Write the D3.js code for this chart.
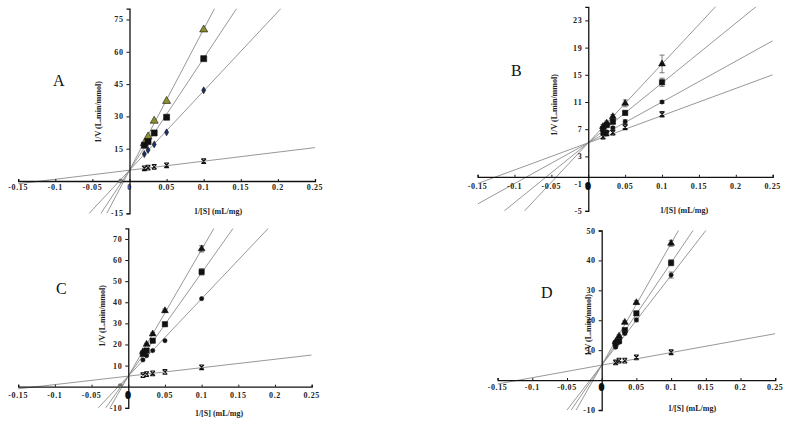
<!DOCTYPE html>
<html><head><meta charset="utf-8">
<script src="https://cdn.jsdelivr.net/npm/d3@7"></script>
<style>
html,body{margin:0;padding:0;background:#fff;}
svg{display:block;}
.tick-label{font-family:"Liberation Serif","DejaVu Serif",serif;font-weight:bold;font-size:8px;fill:#222;letter-spacing:0.6px;}
.axis-title{font-family:"Liberation Serif","DejaVu Serif",serif;font-weight:bold;font-size:8px;fill:#222;}
.panel-letter{font-family:"Liberation Serif","DejaVu Serif",serif;font-size:16px;fill:#111;}
</style>
</head><body>
<svg id="chart" width="789" height="424"></svg>
<script>
// ---------- data ----------
const panelNames = ["A", "B", "C", "D"];
const xTickValues = [-0.15, -0.1, -0.05, 0, 0.05, 0.1, 0.15, 0.2, 0.25];
const xTickLabels = ["-0.15", "-0.1", "-0.05", "0", "0.05", "0.1", "0.15", "0.2", "0.25"];
const invS = [0.02, 0.025, 0.0333, 0.05, 0.1];

const yDomainA = [-15, 80];
const yTicksA = [-15, 15, 30, 45, 60, 75];
const triangleA = [17.5, 20.6, 27.9, 37.1, 70.3];
const squareA   = [16.6, 18.3, 22.3, 29.6, 56.8];
const diamondA  = [12.5, 14.4, 17.0, 22.6, 42.1];
const crossA    = [5.9, 6.2, 6.6, 7.3, 9.2];
const slopesA   = [655, 520, 368, 42];
const interceptsA = [5, 5, 5, 5];

const yDomainB = [-5, 25];
const yTicksB = [-5, -1, 3, 7, 11, 15, 19, 23];
const triangleB = [7.4, 7.9, 8.85, 10.8, 16.6];
const squareB   = [7.0, 7.6, 8.1, 9.4, 13.9];
const circleB   = [6.4, 6.6, 7.2, 8.1, 11.0];
const crossB    = [5.9, 6.4, 6.5, 7.3, 9.2];
const triangleErrB = [0.3, 0.3, 0.3, 0.5, 1.3];
const squareErrB   = [0.2, 0.2, 0.3, 0.3, 0.6];
const circleErrB   = [0.2, 0.2, 0.2, 0.3, 0.2];
const crossErrB    = [0.3, 0.3, 0.3, 0.4, 0.4];
const slopesB   = [116, 88, 60, 40];
const interceptsB = [5, 5, 5, 5];

const yDomainC = [-10, 75];
const yTicksC = [-10, 10, 20, 30, 40, 50, 60, 70];
const triangleC = [16.6, 20.1, 25.0, 36.0, 65.3];
const squareC   = [15.5, 17.1, 21.8, 29.6, 54.4];
const circleC   = [12.7, 14.7, 17.1, 21.8, 41.7];
const crossC    = [5.5, 6.0, 6.3, 7.0, 9.2];
const triangleErrC = [0.5, 0.5, 0.6, 0.8, 1.5];
const squareErrC   = [0.5, 0.5, 0.6, 0.8, 1.5];
const slopesC   = [600, 490, 367, 40];
const interceptsC = [5, 5, 5, 5];

const yDomainD = [-10, 50];
const yTicksD = [-10, 10, 20, 30, 40, 50];
const triangleD = [12.8, 14.7, 19.3, 25.9, 45.7];
const squareD   = [12.2, 13.1, 16.7, 22.3, 39.2];
const circleD   = [11.0, 12.6, 15.6, 20.1, 35.1];
const crossD    = [5.9, 6.5, 6.5, 7.6, 9.3];
const triangleErrD = [0.4, 0.4, 0.5, 0.6, 1.0];
const squareErrD   = [0.4, 0.4, 0.5, 0.6, 1.0];
const circleErrD   = [0.4, 0.4, 0.5, 0.6, 1.0];
const slopesD   = [407, 342, 300, 42];
const interceptsD = [5, 5, 5, 5];

// stray point near the x-intercept (A and C)
const strayA = [{x: -0.012, y: 0}];
const strayC = [{x: -0.011, y: 0.5}];

const xTitle = "1/[S] (mL/mg)";
const yTitle = "1/V (L.min/mmol)";

// ---------- layout (not data) ----------
const layout = {
  A: {xr: [18.2, 315], yr: [213.3, 8.7], yd: yDomainA, yt: yTicksA, letter: [53, 86], xt: [218, 214], ytl: [101, 112], lblDy: 6, zeroBlob: false},
  B: {xr: [477.6, 772.7], yr: [210.8, 6.8], yd: yDomainB, yt: yTicksB, letter: [511, 76], xt: [684, 213], ytl: [557, 105], lblDy: 9, zeroBlob: true},
  C: {xr: [18.2, 311.7], yr: [407.8, 228.4], yd: yDomainC, yt: yTicksC, letter: [56, 294], xt: [219, 416], ytl: [105, 316], lblDy: 8, zeroBlob: true},
  D: {xr: [497.6, 775.2], yr: [410, 230.5], yd: yDomainD, yt: yTicksD, letter: [541, 298], xt: [692, 411], ytl: [591, 325], lblDy: 7, zeroBlob: true}
};

const seriesByPanel = {
  A: [
    {vals: triangleA, err: null, shape: "triangle", fill: "#8f8f2e"},
    {vals: squareA, err: null, shape: "square", fill: "#111"},
    {vals: diamondA, err: null, shape: "diamond", fill: "#1c2f66"},
    {vals: crossA, err: null, shape: "cross", fill: "#111"}
  ],
  B: [
    {vals: triangleB, err: triangleErrB, shape: "triangle", fill: "#111"},
    {vals: squareB, err: squareErrB, shape: "square", fill: "#111"},
    {vals: circleB, err: circleErrB, shape: "circle", fill: "#111"},
    {vals: crossB, err: crossErrB, shape: "cross", fill: "#111"}
  ],
  C: [
    {vals: triangleC, err: triangleErrC, shape: "triangle", fill: "#111"},
    {vals: squareC, err: squareErrC, shape: "square", fill: "#111"},
    {vals: circleC, err: null, shape: "circle", fill: "#111"},
    {vals: crossC, err: null, shape: "cross", fill: "#111"}
  ],
  D: [
    {vals: triangleD, err: triangleErrD, shape: "triangle", fill: "#111"},
    {vals: squareD, err: squareErrD, shape: "square", fill: "#111"},
    {vals: circleD, err: circleErrD, shape: "circle", fill: "#111"},
    {vals: crossD, err: null, shape: "cross", fill: "#111"}
  ]
};
const fits = {
  A: {s: slopesA, b: interceptsA}, B: {s: slopesB, b: interceptsB},
  C: {s: slopesC, b: interceptsC}, D: {s: slopesD, b: interceptsD}
};
const strays = {A: strayA, B: [], C: strayC, D: []};

const svg = d3.select("#chart");

const crossSymbol = {
  draw(ctx, size) {
    const r = Math.sqrt(size) / 2;
    ctx.moveTo(-r, -r); ctx.lineTo(r, r);
    ctx.moveTo(r, -r); ctx.lineTo(-r, r);
    ctx.moveTo(-r, -r); ctx.lineTo(r, -r);
    ctx.moveTo(-r, r); ctx.lineTo(r, r);
  }
};

panelNames.forEach(name => {
  const L = layout[name];
  const x = d3.scaleLinear().domain([-0.15, 0.25]).range(L.xr);
  const y = d3.scaleLinear().domain(L.yd).range(L.yr);
  const g = svg.append("g");

  const clipId = "clip" + name;
  g.append("clipPath").attr("id", clipId).append("rect")
    .attr("x", L.xr[0]).attr("y", L.yr[1])
    .attr("width", L.xr[1] - L.xr[0]).attr("height", L.yr[0] - L.yr[1]);

  // fitted lines
  const f = fits[name];
  const lineGen = d3.line().x(d => x(d[0])).y(d => y(d[1]));
  const lg = g.append("g").attr("clip-path", `url(#${clipId})`);
  f.s.forEach((s, i) => {
    const pts = [-0.15, 0.25].map(v => [v, f.b[i] + s * v]);
    lg.append("path").attr("d", lineGen(pts))
      .attr("fill", "none").attr("stroke", "#8c8c8c").attr("stroke-width", 0.9);
  });

  // x axis
  const xAxis = d3.axisBottom(x).tickValues(xTickValues).tickSize(-2).tickFormat(() => "");
  const xg = g.append("g").attr("transform", `translate(0,${y(0)})`).call(xAxis);
  xg.select(".domain").attr("stroke", "#111").attr("stroke-width", 1.3);
  xg.selectAll(".tick line").attr("stroke", "#111");
  g.selectAll(".xlbl").data(xTickValues).enter().append("text")
    .attr("class", "tick-label")
    .attr("x", d => x(d))
    .attr("y", y(0) + L.lblDy + 3)
    .attr("text-anchor", "middle")
    .attr("stroke", d => (d === 0 && L.zeroBlob) ? "#111" : "none")
    .attr("stroke-width", d => (d === 0 && L.zeroBlob) ? 2.2 : 0)
    .text((d, i) => xTickLabels[i]);

  // y axis
  const yAxis = d3.axisLeft(y).tickValues(L.yt).tickSize(3).tickFormat(() => "");
  const yg = g.append("g").attr("transform", `translate(${x(0)},0)`).call(yAxis);
  yg.select(".domain").attr("stroke", "#111").attr("stroke-width", 1.3);
  yg.selectAll(".tick line").attr("stroke", "#111");
  g.selectAll(".ylbl").data(L.yt).enter().append("text")
    .attr("class", "tick-label")
    .attr("x", x(0) - 6)
    .attr("y", d => y(d) + 3)
    .attr("text-anchor", "end")
    .text(d => d);

  // stray points
  g.selectAll(".stray").data(strays[name]).enter().append("circle")
    .attr("cx", d => x(d.x)).attr("cy", d => y(d.y)).attr("r", 2)
    .attr("fill", "#777").attr("stroke", "#555").attr("stroke-width", 0.6);

  // series
  const symbolType = {triangle: d3.symbolTriangle, square: d3.symbolSquare, diamond: d3.symbolDiamond, circle: d3.symbolCircle, cross: crossSymbol};
  const symbolSize = {triangle: name === "A" ? 28 : 20, square: name === "A" ? 36 : 28, diamond: 14, circle: 14, cross: 22};
  seriesByPanel[name].forEach(ser => {
    const data = invS.map((v, i) => ({x: v, y: ser.vals[i], e: ser.err ? ser.err[i] : 0}));
    const sg = g.append("g");
    if (ser.err) {
      data.forEach(d => {
        if (!d.e) return;
        const cx = x(d.x), y1 = y(d.y - d.e), y2 = y(d.y + d.e);
        sg.append("path").attr("d", `M${cx},${y1}L${cx},${y2}M${cx-2.5},${y1}L${cx+2.5},${y1}M${cx-2.5},${y2}L${cx+2.5},${y2}`)
          .attr("stroke", "#444").attr("stroke-width", 0.7).attr("fill", "none");
      });
    }
    sg.selectAll("path.mk").data(data).enter().append("path")
      .attr("class", "mk")
      .attr("transform", d => `translate(${x(d.x)},${y(d.y)})`)
      .attr("d", d3.symbol().type(symbolType[ser.shape]).size(symbolSize[ser.shape]))
      .attr("fill", ser.shape === "cross" ? "none" : ser.fill)
      .attr("stroke", "#111")
      .attr("stroke-width", ser.shape === "cross" ? 1.1 : 0.6);
  });

  // titles
  g.append("text").attr("class", "axis-title")
    .attr("x", L.xt[0]).attr("y", L.xt[1]).attr("text-anchor", "middle").text(xTitle);
  g.append("text").attr("class", "axis-title")
    .attr("transform", `translate(${L.ytl[0]},${L.ytl[1]}) rotate(-90)`)
    .attr("text-anchor", "middle").text(yTitle);
  g.append("text").attr("class", "panel-letter")
    .attr("x", L.letter[0]).attr("y", L.letter[1]).text(name);
});
</script>
</body></html>
